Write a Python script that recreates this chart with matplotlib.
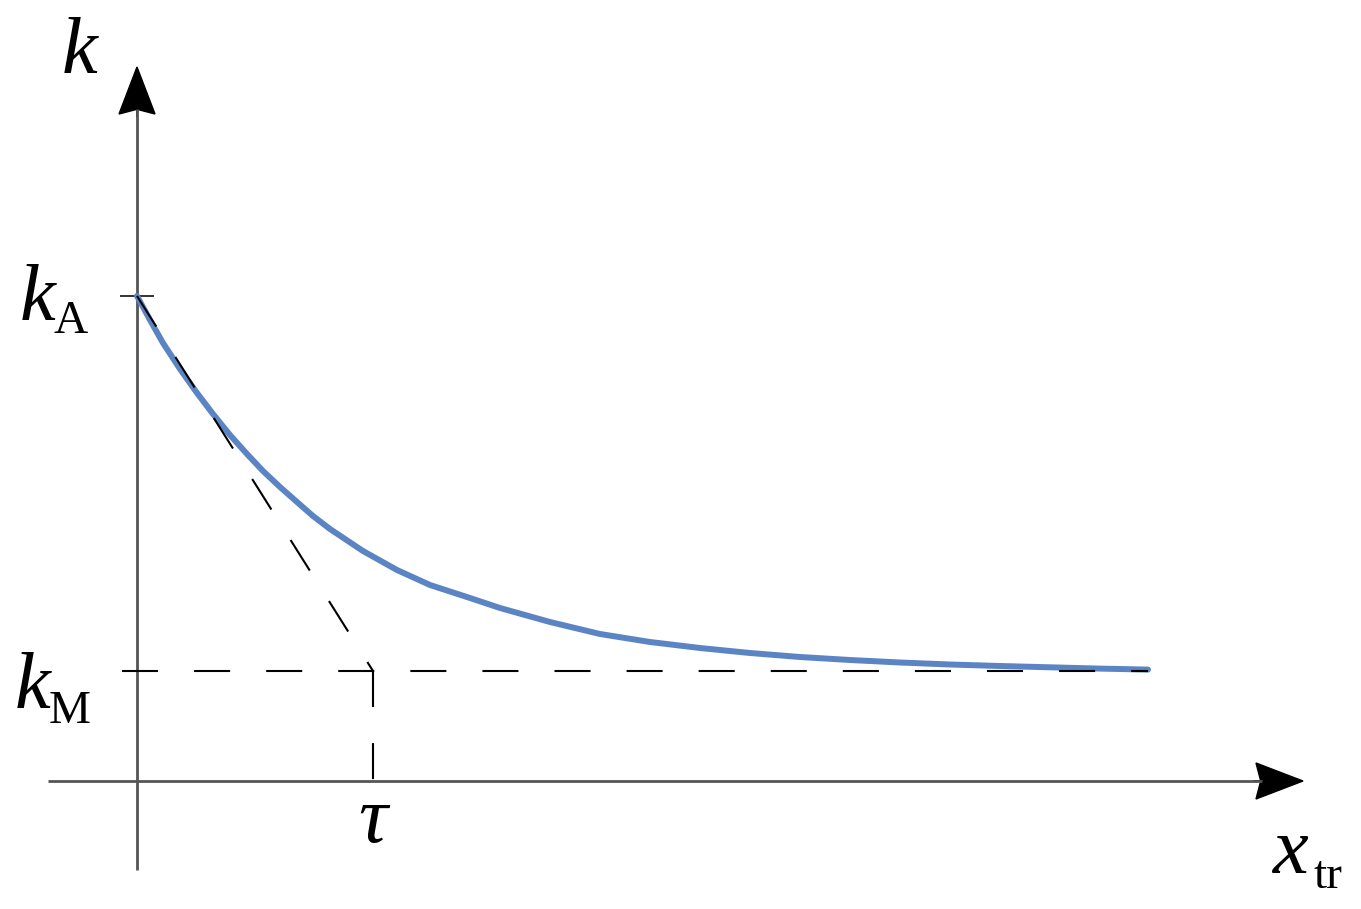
'''exponential decay of k with transition length x_tr, sketch style'''
import numpy as np
from matplotlib import pyplot as plt

# values (1 unit = 100 px, origin at the axes crossing)
curve_x = [0, 0.13, 0.26, 0.43, 0.60, 0.76, 0.93, 1.10, 1.26, 1.43, 1.60,
           1.76, 1.93, 2.26, 2.60, 2.93, 3.33, 3.63, 4.13, 4.63, 5.13, 5.63,
           6.13, 6.63, 7.13, 7.63, 8.13, 8.63, 9.13, 9.63, 10.11]
curve_y = [4.85, 4.61, 4.38, 4.12, 3.88, 3.67, 3.46, 3.27, 3.10, 2.94, 2.79,
           2.65, 2.52, 2.30, 2.11, 1.96, 1.83, 1.73, 1.59, 1.47, 1.39, 1.33,
           1.28, 1.24, 1.21, 1.185, 1.165, 1.15, 1.137, 1.124, 1.114]
k_A = 4.85
k_M = 1.10
tau = 2.36
x_end = 10.11

serif = "Liberation Serif"
big = 58
small = 34

fig = plt.figure(figsize=(13.61, 9.09), dpi=100)
ax = fig.add_axes([0, 0, 1, 1])
ax.set_xlim(-1.37, 12.24)
ax.set_ylim(-1.28, 7.81)
ax.axis("off")

# axes with arrow heads
axcol = "#555555"
ax.plot([-0.89, 11.25], [0, 0], color=axcol, lw=2, solid_capstyle="butt")
ax.plot([0, 0], [-0.89, 6.72], color=axcol, lw=2, solid_capstyle="butt")
ax.arrow(11.16, 0, 0.50, 0, width=0.0, head_width=0.36, head_length=0.47,
         overhang=0.1, length_includes_head=True, color="black")
ax.arrow(0, 6.64, 0, 0.50, width=0.0, head_width=0.36, head_length=0.47,
         overhang=0.1, length_includes_head=True, color="black")

# k_A tick
ax.plot([-0.16, 0.16], [k_A, k_A], color="#333333", lw=1.4)

# curve
ax.plot(curve_x, curve_y, color="#5b84c4", lw=4.3, solid_capstyle="round",
        solid_joinstyle="round", zorder=3)

# dashed guides
dash = (0, (17.3, 17.3))
ax.plot([-0.15, x_end], [k_M, k_M], color="black", lw=1.5, linestyle=dash, zorder=4)
ax.plot([tau, tau], [k_M, 0], color="black", lw=1.5, linestyle=dash, zorder=4)
ax.plot([0, tau], [k_A, k_M], color="black", lw=1.5, linestyle=dash, zorder=4)

# labels
ax.text(-0.75, 7.08, "k", family=serif, style="italic", fontsize=big)
ax.text(-1.17, 4.61, "k", family=serif, style="italic", fontsize=big)
ax.text(-0.83, 4.48, "A", family=serif, fontsize=small)
ax.text(-1.22, 0.73, "k", family=serif, style="italic", fontsize=big)
ax.text(-0.88, 0.58, "M", family=serif, fontsize=small)
ax.text(2.21, -0.61, "τ", family=serif, style="italic", fontsize=big)
ax.text(11.36, -0.92, "x", family=serif, style="italic", fontsize=big)
ax.text(11.76, -1.07, "tr", family=serif, fontsize=small)

plt.savefig("out.png", dpi=100)
